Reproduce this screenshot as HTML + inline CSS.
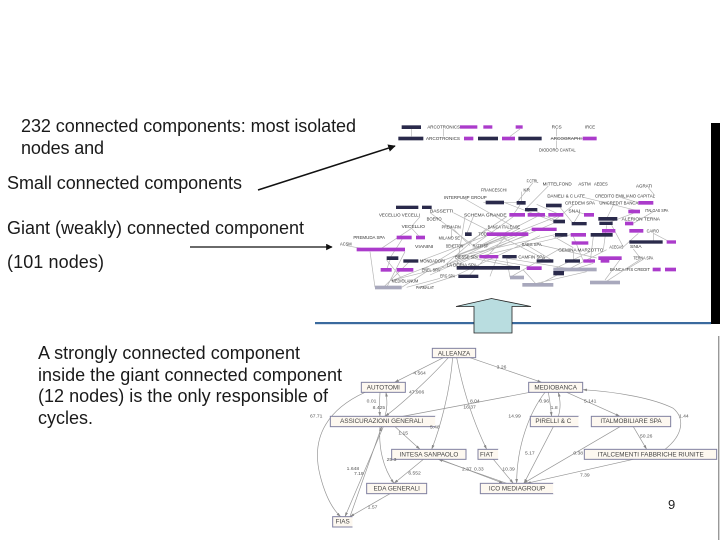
<!DOCTYPE html>
<html><head><meta charset="utf-8">
<style>
html,body{margin:0;padding:0;background:#fff;width:720px;height:540px;overflow:hidden}
svg{display:block}
.t{font-family:"Liberation Sans",sans-serif;font-size:18px;fill:#1a1a1a}
.u rect.d{fill:#2c2c4c}.u rect.p{fill:#ab3acb}.u rect.g{fill:#a8a8bc}
.u text{font-family:"Liberation Sans",sans-serif;font-size:14px;fill:#333}
.n rect{fill:#fdf8f0;stroke:#8080a0;stroke-width:3}
.n text{font-family:"Liberation Sans",sans-serif;font-size:19px;fill:#444;text-anchor:middle}
.l text{font-family:"Liberation Sans",sans-serif;font-size:15px;fill:#555}
</style></head><body>
<svg width="720" height="540" viewBox="0 0 720 540" xmlns="http://www.w3.org/2000/svg">
<defs>
<marker id="a" markerWidth="5" markerHeight="5" refX="4.5" refY="2.5" orient="auto"><path d="M0 0L5 2.5L0 5z" fill="#111"/></marker>
<marker id="b" markerWidth="14" markerHeight="10" refX="13" refY="5" orient="auto" markerUnits="userSpaceOnUse"><path d="M0 1L14 5L0 9z" fill="#888"/></marker>
<filter id="s" x="-5%" y="-5%" width="110%" height="110%"><feGaussianBlur stdDeviation="1.1"/></filter>
<filter id="s2" x="-5%" y="-5%" width="110%" height="110%"><feGaussianBlur stdDeviation="0.8"/></filter>
</defs>
<rect x="711" y="123" width="9" height="201" fill="#000"/>
<rect x="315" y="322" width="396" height="2.2" fill="#3a6a9e"/>
<rect x="718" y="336" width="1.4" height="204" fill="#999"/>

<text class="t" x="21" y="132" textLength="335">232 connected components: most isolated</text>
<text class="t" x="21" y="154" textLength="83">nodes and</text>
<text class="t" x="7" y="189" textLength="235">Small connected components</text>
<text class="t" x="7" y="234" textLength="297">Giant (weakly) connected component</text>
<text class="t" x="7" y="268" textLength="97">(101 nodes)</text>
<text class="t" x="38" y="359" textLength="262">A strongly connected component</text>
<text class="t" x="38" y="381" textLength="304">inside the giant connected component</text>
<text class="t" x="38" y="402" textLength="290">(12 nodes) is the only responsible of</text>
<text class="t" x="38" y="424" textLength="55">cycles.</text>
<text x="668" y="509" font-family="Liberation Sans,sans-serif" font-size="13" fill="#222">9</text>

<line x1="258" y1="190" x2="395" y2="146" stroke="#111" stroke-width="1.5" marker-end="url(#a)"/>
<line x1="190" y1="247" x2="332" y2="247" stroke="#111" stroke-width="1.3" marker-end="url(#a)"/>

<!-- upper graph -->
<g class="u" transform="translate(340 115) scale(.33333)" filter="url(#s)">
<path fill="none" stroke="#b4b4b4" stroke-width="2" d="M215 42V64M310 42V64M540 42L510 64M650 42V64M650 76V100M730 70H632
M578 204L530 263M625 213L555 284M545 230V263M735 248L900 289M845 248L895 263M925 218L945 242
M375 252L520 335M430 262L540 263M492 262L640 319M240 305L215 334M270 293L400 392M340 293L600 425M215 340L120 403M215 340L240 367M190 367L150 429
M335 342V369M340 342L390 392M375 305L350 458M400 305L380 357M500 305L370 392M520 305L400 392M590 305L420 392M650 305L345 425M640 325L350 449M440 340L300 464M540 340L320 449
M560 362L280 464M440 362L240 438M600 362L345 483M500 362L385 484M500 362L155 497M560 350L270 480M575 343L340 425M645 359L350 425M692 359L415 425M420 360L250 464
M90 410L105 517M195 410L140 517M20 392L90 405M150 435L140 464M140 435L190 497M210 438L130 517M260 470L185 517M320 455L150 497M300 490L200 517M345 483L240 517
M400 430L540 458M430 430L600 459M500 430L700 463M615 430L590 438M560 390L640 438M600 390L770 429M655 404L510 487M700 410L700 438M750 410L640 463M800 404L595 509
M800 331L790 404M815 331L850 396M895 355L850 396M940 355V381M940 355L990 381M880 402L900 428M908 434L860 463M840 434L795 495M900 434L795 502M760 445L700 463
M700 270L640 319M720 293L700 326M660 277L700 326M820 270L800 311M880 295L800 325M940 290L880 325M590 290L650 319M540 270L520 299M590 268L660 299M710 290L740 299
M760 364L750 445M700 364L730 438M640 364L700 398M500 430L510 487M470 430L450 484M550 465L590 509M740 470L590 505"/>
<g>
<rect class="d" x="185" y="31" width="58" height="11"/>
<rect class="p" x="360" y="31" width="52" height="10"/><rect class="p" x="430" y="31" width="27" height="10"/><rect class="p" x="527" y="31" width="21" height="10"/>
<rect class="d" x="175" y="65" width="75" height="11"/><rect class="p" x="372" y="65" width="28" height="11"/><rect class="d" x="414" y="65" width="60" height="11"/><rect class="p" x="486" y="65" width="39" height="11"/><rect class="d" x="535" y="65" width="70" height="11"/><rect class="p" x="728" y="65" width="42" height="11"/>
<rect class="d" x="437" y="257" width="55" height="11"/><rect class="d" x="530" y="258" width="27" height="11"/><rect class="p" x="895" y="258" width="45" height="11"/><rect class="d" x="618" y="266" width="47" height="11"/>
<rect class="d" x="168" y="272" width="67" height="10"/><rect class="d" x="246" y="272" width="29" height="10"/><rect class="d" x="555" y="279" width="37" height="10"/><rect class="p" x="865" y="284" width="35" height="11"/>
<rect class="p" x="508" y="294" width="47" height="11"/><rect class="p" x="563" y="294" width="52" height="11"/><rect class="p" x="625" y="294" width="45" height="11"/><rect class="p" x="732" y="294" width="30" height="11"/>
<rect class="d" x="775" y="306" width="57" height="11"/><rect class="d" x="640" y="314" width="35" height="11"/><rect class="d" x="695" y="321" width="45" height="10"/><rect class="d" x="778" y="320" width="40" height="10"/><rect class="p" x="855" y="320" width="25" height="11"/>
<rect class="p" x="575" y="338" width="75" height="10"/><rect class="p" x="786" y="342" width="40" height="11"/><rect class="p" x="868" y="342" width="42" height="11"/>
<rect class="d" x="375" y="352" width="20" height="11"/><rect class="p" x="440" y="352" width="125" height="11"/><rect class="d" x="645" y="354" width="37" height="11"/><rect class="p" x="692" y="354" width="46" height="11"/><rect class="d" x="752" y="354" width="66" height="11"/>
<rect class="p" x="170" y="362" width="45" height="11"/><rect class="p" x="228" y="362" width="27" height="11"/><rect class="p" x="695" y="379" width="50" height="10"/>
<rect class="d" x="868" y="376" width="100" height="10"/><rect class="p" x="980" y="376" width="28" height="10"/>
<rect class="p" x="50" y="398" width="145" height="11"/><rect class="d" x="140" y="424" width="35" height="11"/><rect class="p" x="418" y="420" width="57" height="10"/><rect class="d" x="487" y="420" width="43" height="10"/>
<rect class="p" x="775" y="424" width="70" height="11"/><rect class="d" x="190" y="433" width="45" height="10"/><rect class="d" x="590" y="433" width="50" height="10"/><rect class="d" x="675" y="433" width="45" height="10"/><rect class="p" x="730" y="433" width="35" height="10"/><rect class="p" x="782" y="433" width="26" height="10"/>
<rect class="d" x="350" y="453" width="190" height="11"/><rect class="p" x="560" y="454" width="45" height="11"/><rect class="g" x="640" y="458" width="130" height="11"/><rect class="p" x="938" y="458" width="24" height="11"/><rect class="p" x="975" y="458" width="33" height="11"/>
<rect class="p" x="122" y="459" width="33" height="11"/><rect class="p" x="170" y="459" width="50" height="11"/><rect class="d" x="640" y="468" width="32" height="13"/><rect class="d" x="355" y="479" width="60" height="10"/><rect class="g" x="510" y="482" width="42" height="11"/>
<rect class="g" x="750" y="497" width="90" height="11"/><rect class="g" x="547" y="504" width="93" height="11"/><rect class="g" x="105" y="512" width="80" height="11"/>
</g>
<g>
<text lengthAdjust="spacingAndGlyphs" x="262" y="41" textLength="98">ARCOTRONICS</text><text lengthAdjust="spacingAndGlyphs" x="635" y="41" textLength="30">RCS</text><text lengthAdjust="spacingAndGlyphs" x="735" y="41" textLength="30">IRCE</text>
<text lengthAdjust="spacingAndGlyphs" x="258" y="75" textLength="102">ARCOTRONICS</text><text lengthAdjust="spacingAndGlyphs" x="632" y="75" textLength="93">ARCOGRAPHI</text><text lengthAdjust="spacingAndGlyphs" x="597" y="110" textLength="110">DIODORO CANTAL</text>
<text lengthAdjust="spacingAndGlyphs" x="560" y="203" textLength="35">F.CTRL</text><text lengthAdjust="spacingAndGlyphs" x="608" y="212" textLength="87">MITTELFOND</text><text lengthAdjust="spacingAndGlyphs" x="715" y="212" textLength="37">ASTM</text><text lengthAdjust="spacingAndGlyphs" x="762" y="212" textLength="41">AEDES</text><text lengthAdjust="spacingAndGlyphs" x="888" y="217" textLength="49">AGRATI</text>
<text lengthAdjust="spacingAndGlyphs" x="423" y="229" textLength="77">FRANCESCHI</text><text lengthAdjust="spacingAndGlyphs" x="550" y="229" textLength="20">KR</text><text lengthAdjust="spacingAndGlyphs" x="622" y="247" textLength="113">DANIELI &amp; C LATE</text><text lengthAdjust="spacingAndGlyphs" x="765" y="247" textLength="180">CREDITO EMILIANO CAPITAL</text><text lengthAdjust="spacingAndGlyphs" x="312" y="252" textLength="128">INTERPUMP GROUP</text>
<text lengthAdjust="spacingAndGlyphs" x="675" y="268" textLength="90">CREDEM SPA</text><text lengthAdjust="spacingAndGlyphs" x="778" y="268" textLength="117">UNICREDIT BANCA</text><text lengthAdjust="spacingAndGlyphs" x="270" y="292" textLength="70">BASSETTI</text><text lengthAdjust="spacingAndGlyphs" x="915" y="291" textLength="70">ITALGAS SPA</text><text lengthAdjust="spacingAndGlyphs" x="685" y="292" textLength="35">SNAI</text>
<text lengthAdjust="spacingAndGlyphs" x="117" y="304" textLength="123">VECELLIO VECELLI</text><text lengthAdjust="spacingAndGlyphs" x="372" y="304" textLength="128">SCHEMA GRANDE</text><text lengthAdjust="spacingAndGlyphs" x="260" y="316" textLength="45">BOERO</text><text lengthAdjust="spacingAndGlyphs" x="845" y="316" textLength="115">ALERION TERNA</text>
<text lengthAdjust="spacingAndGlyphs" x="185" y="339" textLength="70">VECELLIO</text><text lengthAdjust="spacingAndGlyphs" x="305" y="340" textLength="57">PREMAFIN</text><text lengthAdjust="spacingAndGlyphs" x="443" y="340" textLength="97">BANCA ITALEASE</text><text lengthAdjust="spacingAndGlyphs" x="920" y="352" textLength="37">CAIRO</text>
<text lengthAdjust="spacingAndGlyphs" x="415" y="362" textLength="25">TOD</text><text lengthAdjust="spacingAndGlyphs" x="40" y="372" textLength="95">PREMUDA SPA</text><text lengthAdjust="spacingAndGlyphs" x="296" y="374" textLength="64">MILANO SE</text><text lengthAdjust="spacingAndGlyphs" x="0" y="391" textLength="35">ACSM</text>
<text lengthAdjust="spacingAndGlyphs" x="225" y="399" textLength="55">VIANINI</text><text lengthAdjust="spacingAndGlyphs" x="318" y="397" textLength="52">BENETTON</text><text lengthAdjust="spacingAndGlyphs" x="398" y="397" textLength="47">RATTI SP</text><text lengthAdjust="spacingAndGlyphs" x="545" y="393" textLength="60">SAES SPA</text><text lengthAdjust="spacingAndGlyphs" x="808" y="401" textLength="42">ACEGAS</text><text lengthAdjust="spacingAndGlyphs" x="870" y="399" textLength="35">SNIA</text>
<text lengthAdjust="spacingAndGlyphs" x="655" y="409" textLength="135">GEMINA MARZOTTO</text><text lengthAdjust="spacingAndGlyphs" x="345" y="430" textLength="70">BIESSE SPA</text><text lengthAdjust="spacingAndGlyphs" x="535" y="430" textLength="80">CAMFIN SPA</text><text lengthAdjust="spacingAndGlyphs" x="880" y="433" textLength="60">TERNA SPA</text>
<text lengthAdjust="spacingAndGlyphs" x="240" y="443" textLength="75">MONDADORI</text><text lengthAdjust="spacingAndGlyphs" x="320" y="454" textLength="90">LA DORIA SPA</text><text lengthAdjust="spacingAndGlyphs" x="810" y="468" textLength="120">BANCA IFIS CREDIT</text><text lengthAdjust="spacingAndGlyphs" x="245" y="469" textLength="55">ENEL SPA</text>
<text lengthAdjust="spacingAndGlyphs" x="300" y="488" textLength="45">ERG SPA</text><text lengthAdjust="spacingAndGlyphs" x="155" y="502" textLength="80">MEDIOLANUM</text><text lengthAdjust="spacingAndGlyphs" x="228" y="522" textLength="54">PARMALAT</text>
</g>
</g>

<polygon points="474,333 474,306.5 456,306.5 491.5,298.5 531,306.5 512,306.5 512,333" fill="#b9dde0" stroke="#222" stroke-width="0.8"/>

<!-- lower graph -->
<g transform="translate(300 295) scale(.33333)" filter="url(#s2)">
<g fill="none" stroke="#949494" stroke-width="2" marker-end="url(#b)">
<path d="M430 188L284 262"/>
<path d="M510 188L725 262"/>
<path d="M445 188C380 260 290 340 255 364"/>
<path d="M458 188C450 290 420 400 395 463"/>
<path d="M470 188C490 290 520 380 560 463"/>
<path d="M240 292C238 320 238 340 240 364"/>
<path d="M255 364C262 340 262 320 258 292"/>
<path d="M195 292C90 340 30 420 60 540C75 600 95 640 122 665"/>
<path d="M690 292L250 375"/>
<path d="M735 292C690 350 650 450 650 565"/>
<path d="M745 292C750 320 752 340 755 364"/>
<path d="M775 364C782 340 782 320 775 292"/>
<path d="M800 292L960 364"/>
<path d="M760 395L672 565"/>
<path d="M960 395L670 565"/>
<path d="M1000 395L1040 463"/>
<path d="M1095 463C1150 420 1155 370 1120 340C1060 310 950 290 848 284"/>
<path d="M1000 493L680 565"/>
<path d="M285 395L360 463"/>
<path d="M250 395L135 665"/>
<path d="M150 665L245 395"/>
<path d="M240 395C235 460 250 520 282 565"/>
<path d="M370 493L282 565"/>
<path d="M420 493L610 565"/>
<path d="M620 565L415 493"/>
<path d="M580 493L640 565"/>
<path d="M270 596L150 665"/>
</g>
<g class="n">
<rect x="397" y="160" width="130" height="28"/><text x="462" y="181">ALLEANZA</text>
<rect x="184" y="262" width="132" height="30"/><text x="250" y="284">AUTOTOMI</text>
<rect x="686" y="262" width="162" height="30"/><text x="767" y="284">MEDIOBANCA</text>
<rect x="91" y="364" width="317" height="31"/><text x="245" y="384">ASSICURAZIONI GENERALI</text>
<rect x="691" y="364" width="147" height="31"/><text x="760" y="384">PIRELLI &amp; C</text>
<rect x="874" y="364" width="238" height="31"/><text x="993" y="384">ITALMOBILIARE SPA</text>
<rect x="275" y="463" width="223" height="30"/><text x="387" y="485">INTESA SANPAOLO</text>
<rect x="534" y="463" width="63" height="30"/><text x="560" y="485">FIAT</text>
<rect x="853" y="463" width="397" height="30"/><text x="1052" y="485">ITALCEMENTI FABBRICHE RIUNITE</text>
<rect x="200" y="565" width="180" height="31"/><text x="290" y="587">EDA GENERALI</text>
<rect x="541" y="565" width="221" height="31"/><text x="651" y="587">ICO MEDIAGROUP</text>
<rect x="98" y="665" width="62" height="31"/><text x="128" y="686">FIAS</text>
</g>
<path d="M408 362V397M838 362V397M597 461V495M762 563V598M160 663V698" stroke="#fff" stroke-width="5" fill="none"/>
<g class="l">
<text x="340" y="238">4.564</text><text x="590" y="221">3.26</text><text x="327" y="295">47.906</text><text x="510" y="323">8.04</text><text x="200" y="322">0.01</text><text x="218" y="342">8.425</text><text x="490" y="340">16.37</text><text x="718" y="322">0.96</text><text x="852" y="322">5.141</text><text x="752" y="342">1.8</text><text x="30" y="368">67.71</text><text x="625" y="367">14.99</text><text x="1137" y="367">1.44</text><text x="390" y="401">5.48</text><text x="295" y="419">1.15</text><text x="1020" y="428">50.26</text><text x="675" y="478">5.17</text><text x="820" y="478">0.38</text><text x="260" y="498">25.3</text><text x="140" y="525">1.648</text><text x="162" y="540">7.19</text><text x="486" y="527">2.37</text><text x="522" y="527">0.33</text><text x="607" y="527">10.39</text><text x="325" y="538">6.552</text><text x="840" y="544">7.39</text><text x="203" y="640">1.57</text>
</g>
</g>
</svg>
</body></html>
